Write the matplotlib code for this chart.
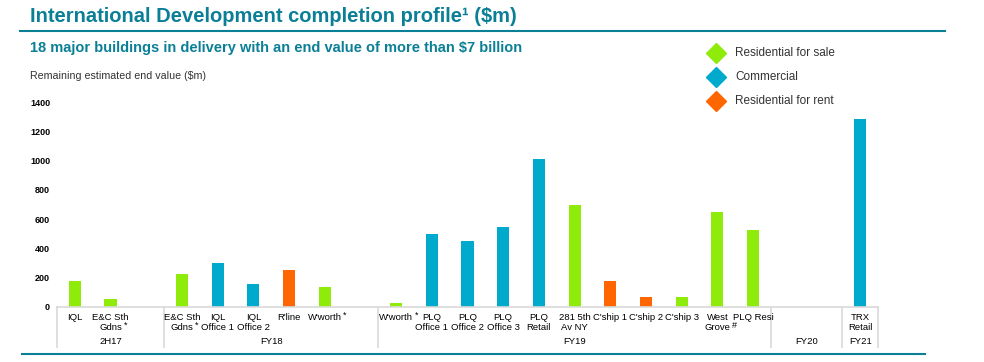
import matplotlib
matplotlib.use("Agg")
import matplotlib.pyplot as plt
import matplotlib.transforms as mtransforms

# Data (slots include blank placeholders as in the original category axis)
# a trailing "*" or "#" is drawn as a small superscript marker
labels = ["IQL", "E&C Sth\nGdns*", "",
          "E&C Sth\nGdns*", "IQL\nOffice 1", "IQL\nOffice 2", "R'line", "W'worth*", "",
          "W'worth*", "PLQ\nOffice 1", "PLQ\nOffice 2", "PLQ\nOffice 3", "PLQ\nRetail",
          "281 5th\nAv NY", "C'ship 1", "C'ship 2", "C'ship 3", "West\nGrove#", "PLQ Resi",
          "", "",
          "TRX\nRetail"]
values = [180, 57, 0,
          227, 303, 159, 255, 139, 0,
          29, 500, 453, 548, 1013, 699, 180, 71, 71, 651, 527,
          0, 0,
          1286]
types = ["sale", "sale", None,
         "sale", "comm", "comm", "rent", "sale", None,
         "sale", "comm", "comm", "comm", "comm", "sale", "rent", "rent", "sale", "sale", "sale",
         None, None,
         "comm"]
periods = ["2H17", "FY18", "FY19", "FY20", "FY21"]
period_sizes = [3, 6, 11, 2, 1]

colors = {"sale": "#8FEB0A", "comm": "#00AACC", "rent": "#FF6600"}
legend_names = {"sale": "Residential for sale", "comm": "Commercial", "rent": "Residential for rent"}
teal = "#0A7F96"
plt.rcParams['font.family'] = ["Liberation Sans", "DejaVu Sans"]

W, H = 984, 362
fig = plt.figure(figsize=(W / 100, H / 100), dpi=100)

# axes placed in pixel terms
ax = fig.add_axes([57 / W, 55 / H, 821 / W, 205 / H])
x = list(range(len(values)))
bar_colors = [colors[t] if t else "none" for t in types]
ax.bar(x, values, width=0.34, color=bar_colors)
ax.set_xlim(-0.5, len(values) - 0.5)
ax.set_ylim(0, 1400)
ax.set_yticks(range(0, 1401, 200))
ax.tick_params(axis="y", length=0, labelsize=6.5, pad=5)
for lab in ax.get_yticklabels():
    lab.set_fontweight("bold")
ax.set_xticks([])
for s in ["top", "right", "left"]:
    ax.spines[s].set_visible(False)
ax.spines["bottom"].set_color("#d9d9d9")
ax.spines["bottom"].set_linewidth(1.2)

trans = mtransforms.blended_transform_factory(ax.transData, ax.transAxes)
px = 1 / 205  # one pixel in axes-fraction units (vertical)

# category labels, line by line
for xi, lab in zip(x, labels):
    if not lab:
        continue
    for j, line in enumerate(lab.split("\n")):
        mark = ""
        if line[-1] in "*#":
            mark, line = line[-1], line[:-1]
        t = ax.text(xi, -(11 + 10 * j) * px, line, transform=trans,
                    ha="center", va="center", fontsize=6.8)
        if mark:
            ax.annotate(mark, xy=(1, 0.8), xycoords=t, xytext=(1, 0),
                        textcoords="offset points", ha="left", va="center", fontsize=6.5)

# group separators and period labels
bounds = [-0.5]
for n in period_sizes:
    bounds.append(bounds[-1] + n)
for b in bounds:
    ax.plot([b, b], [0, -40 * px], transform=trans, color="#d9d9d9", lw=1.2, clip_on=False)
for i, p in enumerate(periods):
    mid = (bounds[i] + bounds[i + 1]) / 2
    ax.text(mid, -34 * px, p, transform=trans, ha="center", va="center", fontsize=6.8)

# title, subtitle, lines
fig.text(30 / W, 1 - 16 / H, "International Development completion profile¹ ($m)",
         fontsize=14.5, fontweight="bold", color=teal, va="center")
fig.add_artist(plt.Line2D([20 / W, 945 / W], [1 - 31 / H, 1 - 31 / H], color=teal, lw=1.5))
fig.text(30 / W, 1 - 48 / H, "18 major buildings in delivery with an end value of more than $7 billion",
         fontsize=10.5, fontweight="bold", color=teal, va="center")
fig.add_artist(plt.Line2D([22 / W, 925 / W], [1 - 354 / H, 1 - 354 / H], color=teal, lw=1.5))
fig.text(30 / W, 1 - 76 / H, "Remaining estimated end value ($m)", fontsize=7.7, color="#333333", va="center")

# legend
for i, key in enumerate(["sale", "comm", "rent"]):
    yy = 1 - (53 + 24 * i) / H
    fig.add_artist(plt.Line2D([716 / W], [yy], marker="D", markersize=10.5,
                              color=colors[key], linestyle="none"))
    fig.text(735 / W, yy, legend_names[key], fontsize=8.5, color="#333333", va="center")

fig.savefig("out.png", dpi=100)
